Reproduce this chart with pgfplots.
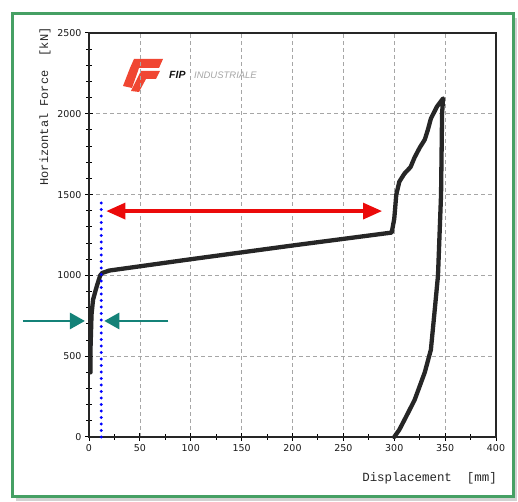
\documentclass[border=0pt]{standalone}
\usepackage{pgfplots}
\pgfplotsset{compat=1.18}
\usepackage{fontspec}
\setmainfont{Liberation Sans}
\newfontfamily\monofont{Liberation Mono}
\newfontfamily\tickfont{DejaVu Sans}
\usetikzlibrary{arrows.meta}
\definecolor{framegreen}{RGB}{70,160,100}
\definecolor{tealarrow}{RGB}{20,130,120}
\definecolor{logored}{RGB}{240,70,50}
\definecolor{arrowred}{RGB}{235,10,10}
\begin{document}
\begin{tikzpicture}
\useasboundingbox (0bp,0bp) rectangle (518bp,502bp);
\fill[gray!35] (16bp,1bp) rectangle (517bp,484bp);
\fill[white] (12bp,5bp) rectangle (513bp,488bp);
\draw[framegreen, line width=3bp] (12bp,5bp) rectangle (513bp,488bp);
% logo
\fill[logored] (134bp,443bp) -- (163bp,443bp) -- (159bp,434bp) -- (130bp,434bp) -- cycle;
\fill[logored] (130bp,434bp) -- (139bp,434bp) -- (132bp,414bp) -- (123bp,416bp) -- cycle;
\fill[logored] (141bp,431bp) -- (160bp,431bp) -- (156bp,423bp) -- (137bp,423bp) -- cycle;
\fill[logored] (137bp,423bp) -- (146bp,423bp) -- (139bp,410bp) -- (131bp,411bp) -- cycle;
\node[anchor=west, inner sep=0pt, text=gray!15!black, font=\bfseries\itshape\fontsize{10.5}{12}\selectfont] at (169bp,427bp) {FIP};
\node[anchor=west, inner sep=0pt, text=gray!70, font=\itshape\fontsize{9.5}{11}\selectfont] at (194bp,427bp) {INDUSTRIALE};
\begin{axis}[at={(89bp,65bp)}, anchor=south west, scale only axis,
  width=407bp, height=404bp,
  xmin=0, xmax=400, ymin=0, ymax=2500,
  xtick={0,50,...,400}, ytick={0,500,...,2500},
  minor x tick num=1, minor y tick num=4,
  tick align=center, xtick pos=left, ytick pos=left,
  major tick length=8bp, minor tick length=6bp,
  every tick/.style={black, line width=1bp},
  axis line style={line width=1.3bp, black!85},
  grid=major,
  major grid style={gray!70, dash pattern=on 4bp off 3bp, line width=0.6bp},
  tick label style={font=\tickfont\fontsize{9.5}{10}\selectfont, text=gray!20!black},
  /pgf/number format/assume math mode=true,
  /pgf/number format/set thousands separator={},
  clip=false]
\addplot[black!85, line width=4.3bp, line join=round, line cap=round] coordinates {
(1.5,400) (1.5,550) (2.5,760) (4,850) (7.5,930) (11,1000) (13,1015) (20,1030)
(100,1100) (200,1185) (297.5,1265) (300,1350) (302,1500) (305,1580) (310,1630)
(316,1670) (320,1730) (325,1790) (330,1840) (333,1900) (336,1970) (342,2045) (348,2095)
(347,2000) (346,1500) (343,1000) (340,800) (336,540) (330,400) (320,229) (312,130) (305,45) (300,0)
};
\addplot[blue, line width=3.4bp, line cap=round, dash pattern=on 0bp off 6.5bp] coordinates {(12,0) (12,1470)};
\draw[arrowred, line width=3.2bp, {Triangle[length=19bp,width=16bp]}-{Triangle[length=19bp,width=16bp]}] (axis cs:17,1398) -- (axis cs:288,1398);
\draw[tealarrow, line width=2.8bp, -{Triangle[length=15bp,width=16bp]}] (axis cs:-65,718) -- (axis cs:-4,718);
\draw[tealarrow, line width=2.8bp, -{Triangle[length=15bp,width=16bp]}] (axis cs:78,718) -- (axis cs:15,718);
\end{axis}
\node[rotate=90, anchor=east, text=gray!30!black, font=\monofont\fontsize{12}{13}\selectfont] at (45bp,478bp) {Horizontal Force\ \ [kN]};
\node[anchor=east, inner sep=0pt, text=gray!30!black, font=\monofont\fontsize{12.5}{13}\selectfont] at (497bp,24bp) {Displacement\ \ [mm]};
\end{tikzpicture}
\end{document}
